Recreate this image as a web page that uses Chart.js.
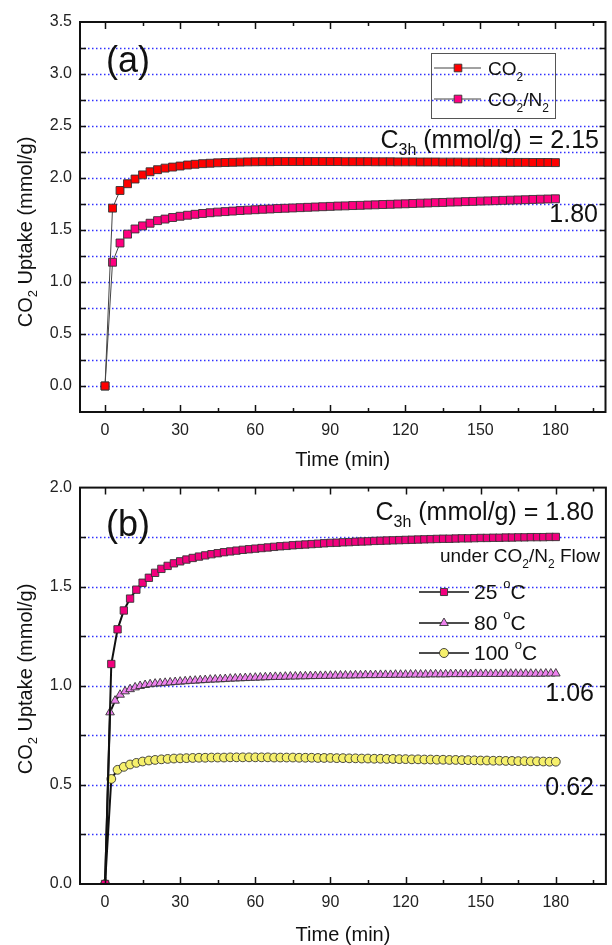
<!DOCTYPE html>
<html>
<head>
<meta charset="utf-8">
<script src="https://cdn.jsdelivr.net/npm/chart.js@4"></script>
<style>
  html, body { margin: 0; padding: 0; background: #fff; }
  #wrap { position: relative; width: 612px; height: 945px; }
  #ca { position: absolute; left: 0; top: 0; }
  #cb { position: absolute; left: 0; top: 470px; }
</style>
</head>
<body>
<div id="wrap">
  <canvas id="ca" width="612" height="470" style="width:612px;height:470px"></canvas>
  <canvas id="cb" width="612" height="475" style="width:612px;height:475px"></canvas>
</div>
<script>
// ---- panel (a): uptake, sampled every 3 min ----
const timeA = [0,3,6,9,12,15,18,21,24,27,30,33,36,39,42,45,48,51,54,57,60,
  63,66,69,72,75,78,81,84,87,90,93,96,99,102,105,108,111,114,117,120,
  123,126,129,132,135,138,141,144,147,150,153,156,159,162,165,168,171,174,177,180];
const co2 = [0,1.71,1.88,1.945,1.99,2.03,2.06,2.08,2.095,2.105,2.115,
  2.125,2.132,2.138,2.142,2.146,2.149,2.151,2.153,2.155,2.156,
  2.157,2.157,2.158,2.158,2.158,2.158,2.158,2.158,2.158,2.158,
  2.158,2.157,2.157,2.157,2.157,2.156,2.156,2.156,2.155,2.155,
  2.155,2.154,2.154,2.154,2.153,2.153,2.153,2.152,2.152,2.152,
  2.151,2.151,2.151,2.15,2.15,2.15,2.149,2.149,2.149,2.148];
const co2n2 = [0,1.19,1.375,1.46,1.51,1.54,1.565,1.59,1.605,1.62,1.632,
  1.642,1.651,1.659,1.666,1.672,1.677,1.682,1.687,1.691,1.695,
  1.699,1.702,1.706,1.709,1.712,1.715,1.718,1.721,1.724,1.727,
  1.73,1.732,1.735,1.737,1.74,1.742,1.745,1.747,1.75,1.752,
  1.755,1.758,1.76,1.763,1.765,1.768,1.77,1.773,1.775,1.778,
  1.78,1.782,1.785,1.787,1.789,1.791,1.794,1.796,1.798,1.80];

// ---- panel (b): CO2/N2 flow at three temperatures ----
const timeB = [0,2.5,5,7.5,10,12.5,15,17.5,20,22.5,25,27.5,30,
  32.5,35,37.5,40,42.5,45,47.5,50,52.5,55,57.5,60,
  62.5,65,67.5,70,72.5,75,77.5,80,82.5,85,87.5,90,
  92.5,95,97.5,100,102.5,105,107.5,110,112.5,115,117.5,120,
  122.5,125,127.5,130,132.5,135,137.5,140,142.5,145,147.5,150,
  152.5,155,157.5,160,162.5,165,167.5,170,172.5,175,177.5,180];
const timeB80 = [0,2,4,6,8,10,12,14,16,18,20,22,24,26,28,30,32,34,36,38,
  40,42,44,46,48,50,52,54,56,58,60,62,64,66,68,70,72,74,76,78,
  80,82,84,86,88,90,92,94,96,98,100,102,104,106,108,110,112,114,116,118,
  120,122,124,126,128,130,132,134,136,138,140,142,144,146,148,150,152,154,156,158,
  160,162,164,166,168,170,172,174,176,178,180];
const t25 = [0,1.11,1.285,1.38,1.44,1.485,1.52,1.545,1.57,1.59,1.605,1.618,1.628,
  1.637,1.645,1.652,1.658,1.664,1.669,1.674,1.678,1.682,1.686,1.689,1.692,
  1.695,1.698,1.701,1.704,1.706,1.709,1.711,1.713,1.715,1.717,1.719,1.721,
  1.722,1.724,1.725,1.727,1.728,1.729,1.731,1.732,1.733,1.734,1.735,1.736,
  1.737,1.738,1.739,1.74,1.741,1.742,1.742,1.743,1.744,1.744,1.745,1.746,
  1.746,1.747,1.747,1.748,1.748,1.749,1.749,1.75,1.75,1.75,1.751,1.751];
const t80 = [0,0.866,0.925,0.955,0.972,0.983,0.992,0.999,1.004,1.008,
  1.011,1.013,1.015,1.017,1.019,1.021,1.023,1.025,1.026,1.028,
  1.029,1.031,1.032,1.033,1.034,1.036,1.037,1.038,1.039,1.04,
  1.041,1.042,1.043,1.044,1.045,1.045,1.046,1.047,1.047,1.048,
  1.048,1.049,1.049,1.05,1.05,1.051,1.051,1.052,1.052,1.052,
  1.053,1.053,1.054,1.054,1.054,1.055,1.055,1.055,1.056,1.056,
  1.056,1.057,1.057,1.057,1.057,1.058,1.058,1.058,1.058,1.059,
  1.059,1.059,1.059,1.059,1.06,1.06,1.06,1.06,1.06,1.06,
  1.061,1.061,1.061,1.061,1.061,1.061,1.061,1.061,1.062,1.062,1.062];
const t100 = [0,0.53,0.576,0.591,0.603,0.611,0.618,0.623,0.626,0.629,0.631,0.633,0.634,
  0.635,0.636,0.637,0.637,0.638,0.638,0.638,0.639,0.639,0.639,0.639,0.639,
  0.639,0.639,0.638,0.638,0.638,0.638,0.637,0.637,0.637,0.636,0.636,0.636,
  0.635,0.635,0.634,0.634,0.633,0.633,0.632,0.632,0.631,0.631,0.63,0.63,
  0.629,0.629,0.628,0.628,0.627,0.627,0.626,0.626,0.625,0.625,0.624,0.623,
  0.623,0.622,0.622,0.621,0.621,0.62,0.62,0.619,0.619,0.618,0.617,0.617];

const xTicks = [0,30,60,90,120,150,180];
const xMinor = [15,45,75,105,135,165,195];
const yTicksA = [0,0.5,1,1.5,2,2.5,3,3.5];
const yTicksB = [0,0.5,1,1.5,2];
const gridA = [0,0.25,0.5,0.75,1,1.25,1.5,1.75,2,2.25,2.5,2.75,3,3.25];
const gridB = [0.25,0.5,0.75,1,1.25,1.5,1.75];

const FONT = 'Arial, "Liberation Sans", sans-serif';

function pts(xs, ys) { return xs.map((x, i) => ({ x: x, y: ys[i] })); }

// draw text made of runs: [text, size, dy]
function rich(ctx, parts, x, y, align) {
  let w = 0;
  parts.forEach(p => { ctx.font = p[1] + 'px ' + FONT; w += ctx.measureText(p[0]).width; });
  let cx = align === 'right' ? x - w : align === 'center' ? x - w / 2 : x;
  ctx.textAlign = 'left';
  ctx.textBaseline = 'alphabetic';
  ctx.fillStyle = '#111';
  parts.forEach(p => {
    ctx.font = p[1] + 'px ' + FONT;
    ctx.fillText(p[0], cx, y + (p[2] || 0));
    cx += ctx.measureText(p[0]).width;
  });
}

function marker(ctx, style, x, y, r, fill) {
  ctx.save();
  ctx.fillStyle = fill;
  ctx.strokeStyle = '#333';
  ctx.lineWidth = 0.9;
  ctx.beginPath();
  if (style === 'rect') {
    const s = r * Math.SQRT1_2;
    ctx.rect(x - s, y - s, 2 * s, 2 * s);
  } else if (style === 'triangle') {
    for (let k = 0; k < 3; k++) {
      const a = k * 2 * Math.PI / 3;
      const px = x + Math.sin(a) * r, py = y - Math.cos(a) * r;
      if (k === 0) ctx.moveTo(px, py); else ctx.lineTo(px, py);
    }
    ctx.closePath();
  } else {
    ctx.arc(x, y, r, 0, Math.PI * 2);
  }
  ctx.fill();
  ctx.stroke();
  ctx.restore();
}

function legendLine(ctx, x1, x2, y, color, w) {
  ctx.save();
  ctx.strokeStyle = color;
  ctx.lineWidth = w;
  ctx.beginPath();
  ctx.moveTo(x1, y);
  ctx.lineTo(x2, y);
  ctx.stroke();
  ctx.restore();
}

function framePlugin(grid, yTitleY, extras) {
  return {
    id: 'frame',
    beforeDatasetsDraw(chart) {
      const { ctx, chartArea: a, scales: { y } } = chart;
      ctx.save();
      ctx.strokeStyle = '#3030ff';
      ctx.lineWidth = 1.5;
      ctx.setLineDash([1.5, 2.5]);
      grid.forEach(v => {
        const py = Math.round(y.getPixelForValue(v)) + 0.5;
        ctx.beginPath();
        ctx.moveTo(a.left, py);
        ctx.lineTo(a.right, py);
        ctx.stroke();
      });
      ctx.restore();
    },
    afterDraw(chart) {
      const { ctx, chartArea: a, scales: { x, y } } = chart;
      ctx.save();
      ctx.strokeStyle = '#111';
      ctx.lineWidth = 2;
      ctx.strokeRect(a.left, a.top, a.right - a.left, a.bottom - a.top);
      ctx.lineWidth = 1.5;
      ctx.beginPath();
      xTicks.concat(xMinor).forEach(v => {
        const len = xTicks.includes(v) ? 7 : 4;
        const px = Math.round(x.getPixelForValue(v)) + 0.5;
        ctx.moveTo(px, a.bottom); ctx.lineTo(px, a.bottom - len);
        ctx.moveTo(px, a.top); ctx.lineTo(px, a.top + len);
      });
      grid.forEach(v => {
        const py = Math.round(y.getPixelForValue(v)) + 0.5;
        ctx.moveTo(a.left, py); ctx.lineTo(a.left + 6, py);
        ctx.moveTo(a.right, py); ctx.lineTo(a.right - 6, py);
      });
      ctx.stroke();
      ctx.restore();

      // axis titles
      ctx.save();
      ctx.translate(32, yTitleY);
      ctx.rotate(-Math.PI / 2);
      rich(ctx, [['CO', 20], ['2', 13, 5], [' Uptake (mmol/g)', 20]], 0, 0, 'center');
      ctx.restore();
      rich(ctx, [['Time (min)', 20]], (a.left + a.right) / 2, chart.height - 4, 'center');

      extras(ctx);
    }
  };
}

function makeChart(canvas, datasets, yMin, yMax, yTicks, padTop, xHeight, plugin) {
  return new Chart(canvas, {
    type: 'line',
    data: { datasets: datasets },
    options: {
      responsive: false,
      animation: false,
      layout: { padding: { top: padTop, right: 1, left: 0, bottom: 0 } },
      plugins: { legend: { display: false }, tooltip: { enabled: false } },
      elements: { line: { tension: 0 } },
      scales: {
        x: {
          type: 'linear', min: -10, max: 200,
          grid: { display: false, drawTicks: false },
          border: { display: false },
          afterBuildTicks: s => { s.ticks = xTicks.map(v => ({ value: v })); },
          afterFit: s => { s.height = xHeight; },
          ticks: { padding: 9, color: '#222', font: { family: FONT, size: 16 }, maxRotation: 0 }
        },
        y: {
          type: 'linear', min: yMin, max: yMax,
          grid: { display: false, drawTicks: false },
          border: { display: false },
          afterBuildTicks: s => { s.ticks = yTicks.map(v => ({ value: v })); },
          afterFit: s => { s.width = 80; },
          ticks: { padding: 8, color: '#222', font: { family: FONT, size: 16 }, callback: v => v.toFixed(1) }
        }
      }
    },
    plugins: [plugin]
  });
}

// ---------- chart (a) ----------
const plugA = framePlugin(gridA, 232, ctx => {
  rich(ctx, [['(a)', 36]], 106, 72, 'left');
  // legend box
  ctx.save();
  ctx.strokeStyle = '#555';
  ctx.lineWidth = 1;
  ctx.strokeRect(431.5, 53.5, 124, 65);
  ctx.restore();
  legendLine(ctx, 434, 481, 68, '#444', 1);
  marker(ctx, 'rect', 458, 68, 5.4, '#ff0000');
  rich(ctx, [['CO', 19], ['2', 12, 6]], 488, 75, 'left');
  legendLine(ctx, 434, 481, 99, '#444', 1);
  marker(ctx, 'rect', 458, 99, 5.4, '#ff0080');
  rich(ctx, [['CO', 19], ['2', 12, 6], ['/N', 19], ['2', 12, 6]], 488, 106, 'left');
  rich(ctx, [['C', 25], ['3h', 16, 7], [' (mmol/g) = 2.15', 25]], 599, 148, 'right');
  rich(ctx, [['1.80', 25]], 598, 222, 'right');
});

makeChart(document.getElementById('ca'), [
  { label: 'CO2', data: pts(timeA, co2), borderColor: '#444', borderWidth: 1,
    pointStyle: 'rect', pointRadius: 5.6, pointBackgroundColor: '#ff0000',
    pointBorderColor: '#333', pointBorderWidth: 0.9 },
  { label: 'CO2/N2', data: pts(timeA, co2n2), borderColor: '#444', borderWidth: 1,
    pointStyle: 'rect', pointRadius: 5.6, pointBackgroundColor: '#ff0080',
    pointBorderColor: '#333', pointBorderWidth: 0.9 }
], -0.25, 3.5, yTicksA, 22, 58, plugA);

// ---------- chart (b) ----------
const plugB = framePlugin(gridB, 679 - 470, ctx => {
  rich(ctx, [['(b)', 36]], 106, 536 - 470, 'left');
  rich(ctx, [['C', 25], ['3h', 16, 7], [' (mmol/g) = 1.80', 25]], 594, 520 - 470, 'right');
  rich(ctx, [['under CO', 19], ['2', 12, 6], ['/N', 19], ['2', 12, 6], [' Flow', 19]], 600, 562 - 470, 'right');
  const items = [['25', 'rect', 5, '#f2007e', 592], ['80', 'triangle', 5, '#ee82ee', 623], ['100', 'circle', 4.5, '#f6f06c', 653]];
  items.forEach(it => {
    const yy = it[4] - 470;
    legendLine(ctx, 419, 469, yy, '#111', 1.5);
    marker(ctx, it[1], 444, yy, it[2], it[3]);
    rich(ctx, [[it[0] + ' ', 21], ['o', 13, -11], ['C', 21]], 474, yy + 7, 'left');
  });
  rich(ctx, [['1.06', 25]], 594, 701 - 470, 'right');
  rich(ctx, [['0.62', 25]], 594, 795 - 470, 'right');
});

makeChart(document.getElementById('cb'), [
  { label: '25 °C', data: pts(timeB, t25), borderColor: '#111', borderWidth: 2,
    pointStyle: 'rect', pointRadius: 5.2, pointBackgroundColor: '#f2007e',
    pointBorderColor: '#333', pointBorderWidth: 0.9 },
  { label: '80 °C', data: pts(timeB80, t80), borderColor: '#111', borderWidth: 2,
    pointStyle: 'triangle', pointRadius: 5, pointBackgroundColor: '#ee82ee',
    pointBorderColor: '#333', pointBorderWidth: 0.9 },
  { label: '100 °C', data: pts(timeB, t100), borderColor: '#111', borderWidth: 2,
    pointStyle: 'circle', pointRadius: 4.4, pointBackgroundColor: '#f6f06c',
    pointBorderColor: '#333', pointBorderWidth: 0.9 }
], 0, 2, yTicksB, 12, 61, plugB);
</script>
</body>
</html>
